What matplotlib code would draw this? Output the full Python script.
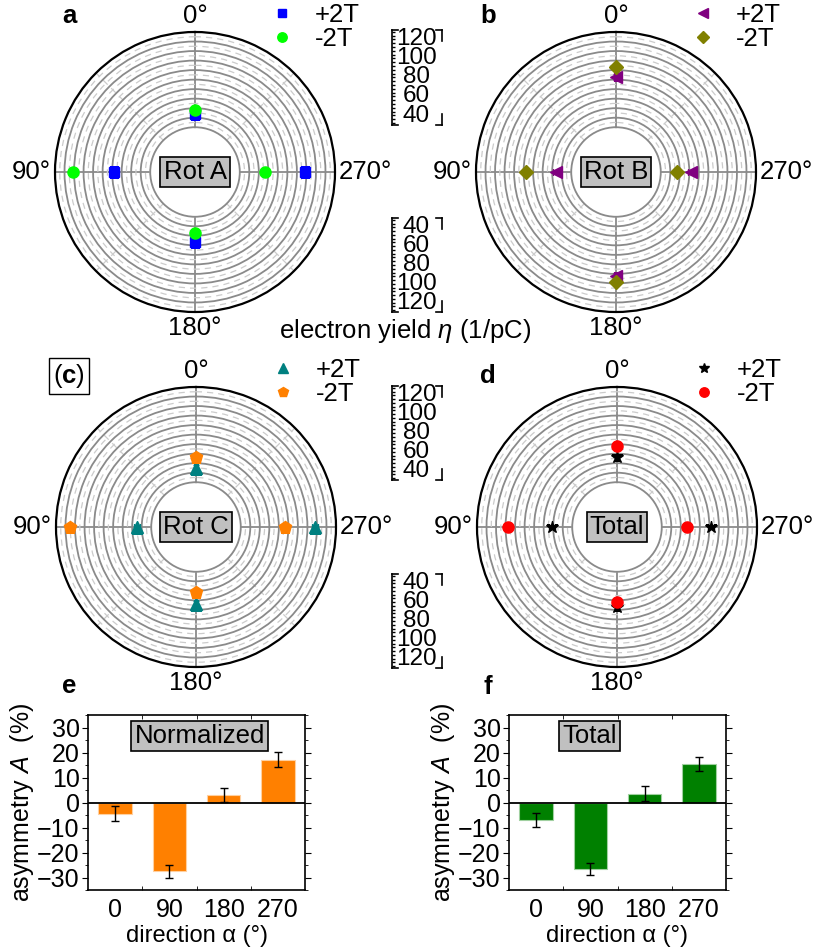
import numpy as np
import matplotlib
matplotlib.use("Agg")
import matplotlib.pyplot as plt
from matplotlib.ticker import MultipleLocator, FixedLocator, NullFormatter

plt.rcParams['font.family'] = ['Liberation Sans', 'DejaVu Sans']
plt.rcParams['mathtext.fontset'] = 'custom'
plt.rcParams['mathtext.rm'] = 'Liberation Sans'
plt.rcParams['mathtext.it'] = 'Liberation Sans:italic'
plt.rcParams['mathtext.bf'] = 'Liberation Sans:bold'

# ---- data -------------------------------------------------------------
angles_deg = [0, 90, 180, 270]
angle_labels = ['0°', '90°', '180°', '270°']
field_labels = ['+2T', '-2T']

# electron yield eta (1/pC) per direction, for +2T and -2T
rotA_plus = [44, 68, 56, 99]
rotA_minus = [48, 111, 47, 57]
rotB_plus = [83, 46, 92, 62]
rotB_minus = [93, 77, 98, 47]
rotC_plus = [45, 45, 64, 108]
rotC_minus = [56, 115, 51, 76]
total_plus = [56, 51, 67, 82]
total_minus = [68, 97, 62, 56]
yield_err = 3

# asymmetry A (%) per direction
directions = ['0', '90', '180', '270']
asym_norm = [-4.5, -27.5, 2.9, 17.1]
asym_norm_err = [3.0, 2.5, 2.8, 3.0]
asym_total = [-7.0, -26.5, 3.5, 15.4]
asym_total_err = [2.8, 2.5, 3.0, 2.7]

R_MIN, R_MAX = 30, 130
scale_ticks = [40, 60, 80, 100, 120]

# ---- figure -----------------------------------------------------------
W, H = 814, 951
fig = plt.figure(figsize=(W / 100, H / 100), dpi=100)


def px_rect(x0, y0, x1, y1):
    return [x0 / W, 1 - y1 / H, (x1 - x0) / W, (y1 - y0) / H]


GRID = '#8a8a8a'
FS = 18.5
FB = 18


def polar_panel(cx, cy, rp, rm, sty_p, sty_m, name):
    rad = 140
    ax = fig.add_axes(px_rect(cx - rad, cy - rad, cx + rad, cy + rad),
                      projection='polar')
    ax.set_theta_zero_location('N')
    ax.set_theta_direction(1)
    ax.set_rlim(R_MIN, R_MAX)
    ax.set_rorigin(-17)
    ax.set_thetagrids(angles_deg, labels=['', '', '', ''])
    ax.set_rgrids([40, 50, 60, 70, 80, 90, 100, 110, 120])
    ax.set_yticklabels([])
    ax.yaxis.set_minor_locator(MultipleLocator(5))
    ax.xaxis.set_minor_locator(FixedLocator(np.deg2rad([45, 135, 225, 315])))
    ax.xaxis.set_minor_formatter(NullFormatter())
    ax.grid(which='major', color=GRID, lw=1.3, ls='-')
    ax.grid(which='minor', color='#cccccc', lw=0.9, ls=(0, (5, 4)))
    ax.tick_params(which='both', length=0)
    ax.spines['polar'].set_color('black')
    ax.spines['polar'].set_linewidth(1.6)
    ax.spines['inner'].set_color(GRID)
    ax.spines['inner'].set_linewidth(1.3)

    # direction labels just outside the rim
    g = 4 / (2 * rad)
    ax.text(0.5, 1 + g, angle_labels[0], transform=ax.transAxes,
            ha='center', va='bottom', fontsize=FS)
    ax.text(-g, 0.5, angle_labels[1], transform=ax.transAxes,
            ha='right', va='center', fontsize=FS)
    ax.text(0.5, -g, angle_labels[2], transform=ax.transAxes,
            ha='center', va='top', fontsize=FS)
    ax.text(1 + g, 0.5, angle_labels[3], transform=ax.transAxes,
            ha='left', va='center', fontsize=FS)

    th = np.deg2rad(angles_deg)
    hp = ax.errorbar(th, rp, yerr=yield_err, ls='none', capsize=2,
                     elinewidth=1.5, zorder=5, **sty_p)
    hm = ax.errorbar(th, rm, yerr=yield_err, ls='none', capsize=2,
                     elinewidth=1.5, zorder=6, **sty_m)
    ax.text(0.5, 0.5, name, transform=ax.transAxes, ha='center',
            va='center', fontsize=FS, zorder=10,
            bbox=dict(boxstyle='square,pad=0.12', fc='#c0c0c0', ec='black',
                      lw=1.2))
    leg_x = (cx + 72) / W
    leg_y = 1 - (cy - 172) / H
    ax.legend([hp[0], hm[0]], field_labels, loc='upper left',
              bbox_to_anchor=(leg_x, leg_y), bbox_transform=fig.transFigure,
              frameon=False, fontsize=FS, handlelength=1.0,
              handletextpad=0.75, labelspacing=0.02, borderpad=0.1,
              borderaxespad=0, markerscale=0.85)
    return ax


def mk(marker, color, size):
    return dict(marker=marker, color=color, mfc=color, mec=color, ms=size,
                ecolor=color)


polar_panel(195, 172, rotA_plus, rotA_minus, mk('s', '#0000ff', 7),
            mk('o', '#00ff00', 8), 'Rot A')
polar_panel(616, 172, rotB_plus, rotB_minus, mk('<', '#800080', 8),
            mk('D', '#808000', 7), 'Rot B')
polar_panel(196, 527, rotC_plus, rotC_minus, mk('^', '#008080', 8),
            mk('p', '#ff8000', 9), 'Rot C')
polar_panel(617, 527, total_plus, total_minus, mk('*', 'black', 9),
            mk('o', '#ff0000', 8), 'Total')


# radial scale bars between the polar plots
def scale_bar(x0, y0, y1, inverted):
    ax = fig.add_axes(px_rect(x0, y0, x0 + 50, y1))
    ax.set_ylim((R_MAX, R_MIN) if inverted else (R_MIN, R_MAX))
    ax.set_xlim(0, 1)
    ax.patch.set_visible(False)
    for s in ['top', 'right', 'bottom']:
        ax.spines[s].set_visible(False)
    ax.spines['left'].set_linewidth(1.2)
    ax.set_xticks([])
    ax.yaxis.set_major_locator(FixedLocator(scale_ticks))
    ax.yaxis.set_minor_locator(MultipleLocator(4))
    ax.tick_params(axis='y', which='both', direction='in', length=2.5,
                   width=1, labelleft=False)
    for v in scale_ticks:
        ax.text(0.48, v, str(v), ha='center', va='center', fontsize=17.5,
                transform=ax.get_yaxis_transform(), linespacing=1)
    # bracket ends
    for yy in (0.0, 1.0):
        ax.plot([0, 0.12], [yy, yy], color='black', lw=1.2,
                transform=ax.transAxes, clip_on=False)
        ax.plot([0.88, 1.0], [yy, yy], color='black', lw=1.2,
                transform=ax.transAxes, clip_on=False)
    ax.plot([1, 1], [0, 0.12], color='black', lw=1.2, transform=ax.transAxes,
            clip_on=False)
    ax.plot([1, 1], [0.88, 1], color='black', lw=1.2, transform=ax.transAxes,
            clip_on=False)


scale_bar(392, 30, 125, False)
scale_bar(392, 218, 312, True)
scale_bar(392, 386, 480, False)
scale_bar(392, 574, 668, True)

fig.text(405 / W, 1 - 331 / H, r'electron yield $\eta$ (1/pC)',
         ha='center', va='center', fontsize=FS)


# asymmetry bar charts
def bar_panel(x0, x1, vals, errs, color, edge, name, name_x):
    ax = fig.add_axes(px_rect(x0, 715, x1, 890))
    pos = np.arange(len(directions))
    ax.bar(pos, vals, width=0.62, color=color, edgecolor=edge, lw=0.8,
           zorder=2)
    ax.errorbar(pos, vals, yerr=errs, ls='none', color='black', capsize=3,
                elinewidth=1, capthick=1, zorder=3)
    ax.axhline(0, color='black', lw=1.3, zorder=4)
    ax.set_xlim(-0.5, 3.5)
    ax.set_ylim(-35, 35)
    ax.set_xticks(pos)
    ax.set_xticklabels(directions, fontsize=FB)
    ax.xaxis.set_minor_locator(FixedLocator([0.5, 1.5, 2.5]))
    ax.yaxis.set_major_locator(MultipleLocator(10))
    ax.yaxis.set_minor_locator(MultipleLocator(5))
    ax.tick_params(axis='y', which='both', labelsize=FB, direction='out',
                   right=True, pad=2)
    ax.tick_params(axis='y', which='major', length=4)
    ax.tick_params(axis='y', which='minor', length=2.5)
    ax.tick_params(axis='x', which='major', length=0, pad=6)
    ax.tick_params(axis='x', which='minor', length=3, direction='in',
                   top=True)
    for s in ax.spines.values():
        s.set_linewidth(1.2)
    ax.set_ylabel(r'asymmetry $A$  (%)', fontsize=FB, labelpad=1)
    ax.set_xlabel('direction α (°)', fontsize=17, labelpad=2)
    ax.text(name_x, 26.7, name, ha='center', va='center', fontsize=FS,
            bbox=dict(boxstyle='square,pad=0.12', fc='#c0c0c0', ec='black',
                      lw=1.2))
    return ax


bar_panel(88, 305, asym_norm, asym_norm_err, '#ff8000', '#ffd0a0',
          'Normalized', 1.56)
bar_panel(509, 726, asym_total, asym_total_err, '#008000', '#a0d0a0',
          'Total', 0.99)

# panel letters
fig.text(69 / W, 1 - 16 / H, 'a', fontsize=FS, fontweight='bold',
         ha='center', va='center')
fig.text(488 / W, 1 - 16 / H, 'b', fontsize=FS, fontweight='bold',
         ha='center', va='center')
fig.text(69 / W, 1 - 376 / H, r'($\mathbf{c}$)', fontsize=FS, ha='center',
         va='center', bbox=dict(boxstyle='square,pad=0.15', fc='white',
                                ec='black', lw=1.0))
fig.text(488 / W, 1 - 376 / H, 'd', fontsize=FS, fontweight='bold',
         ha='center', va='center')
fig.text(69 / W, 1 - 686 / H, 'e', fontsize=FS, fontweight='bold',
         ha='center', va='center')
fig.text(488 / W, 1 - 687 / H, 'f', fontsize=FS, fontweight='bold',
         ha='center', va='center')

fig.savefig('out.png', dpi=100)
